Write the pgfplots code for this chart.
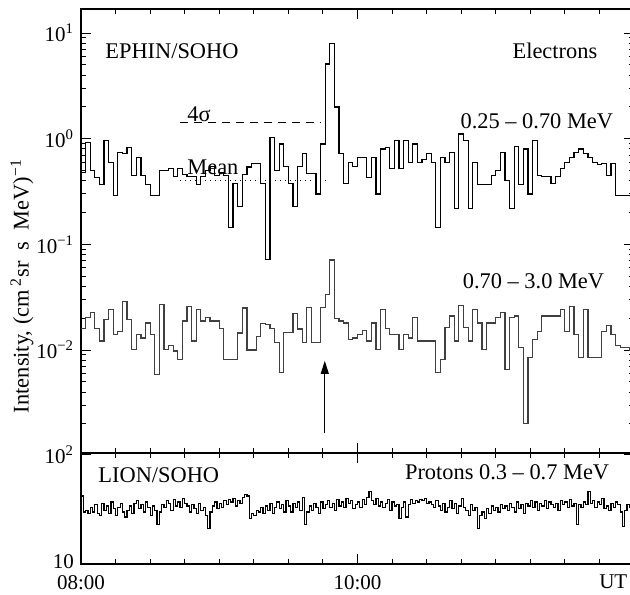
\documentclass[border=0pt]{standalone}
\usepackage{pgfplots}
\pgfplotsset{compat=1.18}
\usepackage{pgfplotstable}
\usepackage{fontspec}
\setmainfont{Liberation Serif}
\usetikzlibrary{arrows.meta}

% EPHIN 0.25-0.70 MeV, 2-min bins (t in minutes after 08:00)
\pgfplotstableread{
t v
0 0.48
2 0.92
4 0.50
6 0.43
8 0.37
10 0.96
12 0.60
14 0.29
16 0.74
18 0.72
20 0.82
22 0.45
24 0.66
26 0.45
28 0.37
30 0.29
32 0.29
34 0.50
36 0.50
38 0.52
40 0.44
42 0.52
44 0.46
46 0.44
48 0.44
50 0.37
52 0.44
54 0.50
56 0.55
58 0.45
60 0.48
62 0.45
64 0.145
66 0.38
68 0.23
70 0.46
72 0.54
74 0.58
76 0.58
78 0.38
80 0.072
82 1.03
84 0.50
86 0.89
88 0.55
90 0.38
92 0.23
94 0.55
96 0.72
98 0.47
100 0.47
102 0.30
104 0.89
106 5.1
108 8.0
110 2.0
112 0.72
114 0.38
116 0.60
118 0.55
120 0.67
122 0.66
124 0.43
126 0.67
128 0.30
130 0.80
132 0.83
134 0.52
136 0.96
138 0.52
140 0.96
142 0.60
144 0.89
146 0.60
148 0.64
150 0.72
152 0.60
154 0.144
156 0.67
158 0.60
160 0.74
162 0.22
164 1.11
166 0.96
168 0.22
170 0.60
172 0.37
174 0.37
176 0.37
178 0.45
180 0.50
182 0.74
184 0.40
186 0.22
188 0.85
190 0.37
192 0.80
194 0.30
196 0.96
198 0.45
200 0.44
202 0.44
204 0.38
206 0.44
208 0.52
210 0.60
212 0.67
214 0.74
216 0.80
218 0.72
220 0.67
222 0.60
224 0.57
226 0.58
228 0.45
230 0.58
232 0.29
234 0.29
236 0.29
238 0.29
240 0.29
}\lowe

% EPHIN 0.70-3.0 MeV
\pgfplotstableread{
t v
0 0.0159
2 0.0203
4 0.0226
6 0.016
8 0.0122
10 0.0195
12 0.0243
14 0.0141
16 0.0150
18 0.029
20 0.0195
22 0.0102
24 0.0141
26 0.0130
28 0.018
30 0.0141
32 0.0059
34 0.027
36 0.0102
38 0.011
40 0.0098
42 0.0082
44 0.0188
46 0.026
48 0.0122
50 0.0243
52 0.0188
54 0.0203
56 0.0188
58 0.0188
60 0.016
62 0.0081
64 0.0081
66 0.0081
68 0.0145
70 0.025
72 0.010
74 0.010
76 0.0135
78 0.0177
80 0.0175
82 0.016
84 0.0117
86 0.0061
88 0.0146
90 0.0146
92 0.0220
94 0.0158
96 0.0117
98 0.0252
100 0.0117
102 0.0117
104 0.0252
106 0.0333
108 0.071
110 0.020
112 0.0188
114 0.018
116 0.0125
118 0.0130
120 0.0141
122 0.0152
124 0.0122
126 0.018
128 0.0101
130 0.0243
132 0.0160
134 0.0141
136 0.0141
138 0.0101
140 0.0141
142 0.013
144 0.0203
146 0.0122
148 0.0122
150 0.0122
152 0.0122
154 0.0061
156 0.0081
158 0.0163
160 0.021
162 0.0122
164 0.0263
166 0.0163
168 0.0122
170 0.0243
172 0.018
174 0.0101
176 0.018
178 0.018
180 0.0203
182 0.0226
184 0.0065
186 0.0203
188 0.0210
190 0.0105
192 0.0020
194 0.0085
196 0.0125
198 0.0150
200 0.021
202 0.021
204 0.021
206 0.021
208 0.024
210 0.015
212 0.026
214 0.014
216 0.0085
218 0.024
220 0.0085
222 0.0085
224 0.0085
226 0.015
228 0.017
230 0.014
232 0.011
234 0.0105
236 0.0105
238 0.010
240 0.010
}\highe

\tikzset{txt/.style={font=\fontsize{11.2}{13}\selectfont, inner sep=0pt}}
\pgfplotsset{
  every axis/.append style={
    scale only axis, width=276.5pt,
    xmin=0, xmax=240,
    ymode=log, log basis y=10,
    axis line style={line width=0.6pt},
    every tick/.style={black, line width=0.5pt},
    major tick length=5pt, minor tick length=2.5pt,
    xtick={0,120,240}, minor x tick num=7,
    tick label style={font=\fontsize{10.5}{12}\selectfont},
  },
}

\begin{document}
\begin{tikzpicture}
\useasboundingbox (-40.5pt,-15pt) rectangle (274.5pt,282pt);

% protons
\begin{axis}[name=bot, at={(0,0)}, anchor=south west,
  height=55.5pt, ymin=10, ymax=104,
  ytickten={1,2},
  xticklabels={08:00,10:00,},
  xticklabel style={yshift=-2pt},
  extra x ticks={231}, extra x tick labels={UT},
  extra x tick style={major tick length=0pt},
  yticklabel={\pgfmathtruncatemacro\e{round(\tick)}\ifnum\e=1 \raisebox{2pt}{10}\else 10\textsuperscript{\e}\fi},
]
\addplot[const plot, black, line width=0.6pt] coordinates {
(0,42)(1,30)(2,31)(3,29)(4,33)(5,30)(6,35)(7,29)(8,28)(9,36)(10,31)(11,34)(12,29)(13,37)(14,32)(15,28)(16,33)(17,36)(18,30)(19,27)
(20,31)(21,34)(22,29)(23,36)(24,38)(25,32)(26,35)(27,30)(28,37)(29,33)(30,28)(31,34)(32,31)(33,23)(34,30)(35,35)(36,33)(37,38)(38,36)(39,31)
(40,39)(41,34)(42,37)(43,33)(44,40)(45,36)(46,34)(47,30)(48,35)(49,32)(50,29)(51,36)(52,31)(53,33)(54,28)(55,21)(56,30)(57,34)(58,37)(59,32)
(60,36)(61,33)(62,38)(63,35)(64,39)(65,37)(66,40)(67,34)(68,38)(69,36)(70,41)(71,43)(72,42)(73,26)(74,29)(75,28)(76,31)(77,30)(78,33)(79,29)
(80,34)(81,31)(82,36)(83,29)(84,33)(85,37)(86,32)(87,35)(88,30)(89,38)(90,34)(91,30)(92,36)(93,33)(94,37)(95,31)(96,41)(97,23)(98,30)(99,34)
(100,31)(101,36)(102,33)(103,29)(104,37)(105,32)(106,35)(107,38)(108,33)(109,36)(110,31)(111,39)(112,34)(113,37)(114,33)(115,40)(116,36)(117,38)(118,32)(119,35)
(120,37)(121,33)(122,39)(123,35)(124,41)(125,46)(126,38)(127,35)(128,40)(129,34)(130,37)(131,33)(132,36)(133,39)(134,31)(135,37)(136,34)(137,35)(138,26)(139,33)
(140,37)(141,27)(142,35)(143,39)(144,36)(145,38)(146,37)(147,39)(148,38)(149,40)(150,36)(151,37)(152,35)(153,33)(154,38)(155,34)(156,31)(157,36)(158,30)(159,33)
(160,38)(161,32)(162,36)(163,29)(164,34)(165,40)(166,33)(167,31)(168,28)(169,35)(170,31)(171,33)(172,21)(173,28)(174,30)(175,26)(176,32)(177,29)(178,34)(179,31)
(180,33)(181,30)(182,35)(183,32)(184,34)(185,31)(186,36)(187,33)(188,30)(189,37)(190,32)(191,35)(192,29)(193,36)(194,34)(195,38)(196,33)(197,37)(198,31)(199,36)
(200,34)(201,38)(202,32)(203,37)(204,35)(205,33)(206,36)(207,31)(208,38)(209,35)(210,37)(211,33)(212,39)(213,34)(214,36)(215,23)(216,35)(217,33)(218,37)(219,35)
(220,46)(221,36)(222,38)(223,33)(224,37)(225,35)(226,40)(227,32)(228,34)(229,31)(230,36)(231,33)(232,37)(233,35)(234,30)(235,22)(236,31)(237,35)(238,33)(239,36)(240,36)
};
\node[txt, anchor=west] at (axis cs:7.4,65.6) {LION/SOHO};
\node[txt, anchor=east] at (axis cs:229.4,69.8) {Protons 0.3 -- 0.7 MeV};
\end{axis}

% electrons
\begin{axis}[name=top, at={(bot.north west)}, anchor=south west,
  height=222pt, ymin=1.06e-3, ymax=16.9,
  xticklabels={},
  yticklabel={\pgfmathtruncatemacro\e{round(\tick)}10\textsuperscript{\ifnum\e<0 −\number-\e\else\e\fi}},
]
\addplot[const plot, black, line width=0.6pt] table[x=t, y=v] {\lowe};
\addplot[const plot, black!75, line width=0.6pt] table[x=t, y=v] {\highe};
\addplot[black, line width=0.5pt, dash pattern=on 4pt off 3pt] coordinates {(43,1.42) (104,1.42)};
\addplot[black, dotted, line width=0.5pt] coordinates {(43,0.40) (106,0.40)};
\node[txt, anchor=west] at (axis cs:10.4,6.8) {EPHIN/SOHO};
\node[txt, anchor=east] at (axis cs:224.2,6.8) {Electrons};
\node[txt, anchor=east] at (axis cs:231.1,1.48) {0.25 -- 0.70 MeV};
\node[txt, anchor=east] at (axis cs:227.2,0.0451) {0.70 -- 3.0 MeV};
\node[txt, anchor=base west] at (axis cs:46,1.45) {4σ};
\node[txt, anchor=base west] at (axis cs:46,0.456) {Mean};
\draw[-{Triangle[length=6.5pt,width=4pt]}, line width=0.5pt]
  (axis cs:105.8,0.00163) -- (axis cs:105.8,0.0079);
\end{axis}

\node[txt, rotate=90] at (-29.5pt,139pt)
  {Intensity, (cm\,\textsuperscript{2}sr\ \ s\ \ MeV)\textsuperscript{−1}};
\end{tikzpicture}
\end{document}
